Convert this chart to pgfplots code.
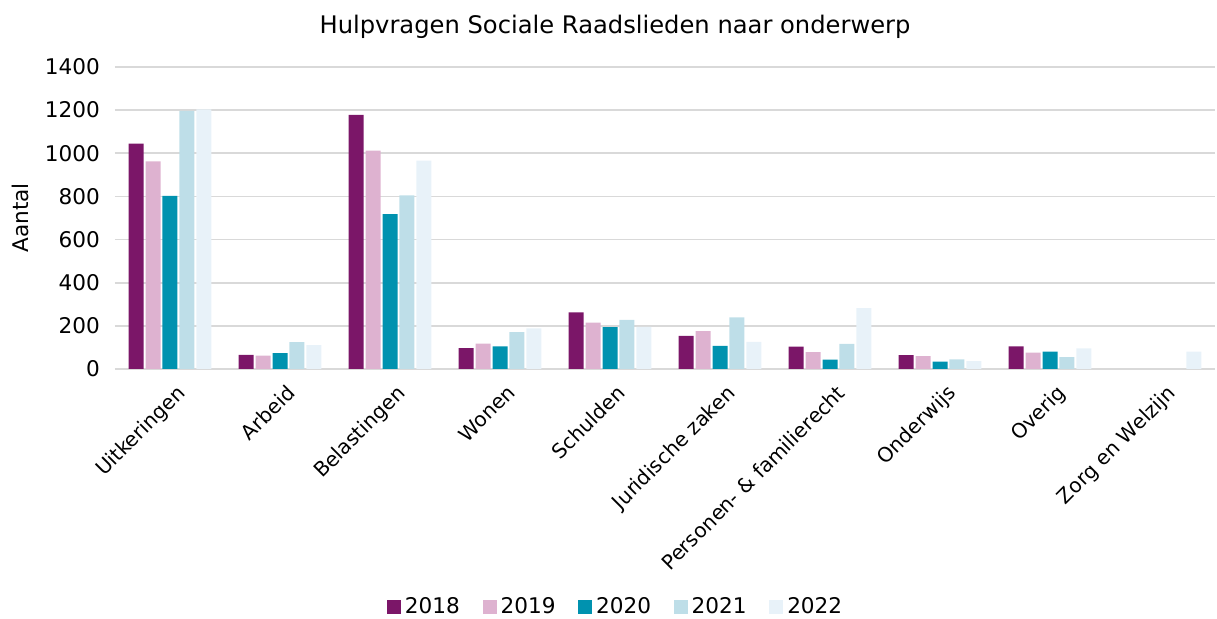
\documentclass[border=0pt]{standalone}
\usepackage{fontspec}
\setmainfont{DejaVu Sans}
\usepackage{pgfplots}
\pgfplotsset{compat=1.18}
\definecolor{c18}{RGB}{123,22,104}
\definecolor{c19}{RGB}{222,178,208}
\definecolor{c20}{RGB}{0,146,175}
\definecolor{c21}{RGB}{190,222,232}
\definecolor{c22}{RGB}{232,242,249}
\definecolor{gridgray}{RGB}{217,217,217}
\begin{document}
\begin{tikzpicture}
\path[use as bounding box] (0pt,0pt) rectangle (608.5pt,309.5pt);
\node[font=\fontsize{12.1}{14}\selectfont, anchor=center] at (307.5pt,296pt) {Hulpvragen Sociale Raadslieden naar onderwerp};
\begin{axis}[
  at={(57.5pt,125pt)}, anchor=south west,
  scale only axis, width=550pt, height=151pt,
  font=\fontsize{10.8}{13}\selectfont,
  /pgf/number format/assume math mode=true,
  ybar=0.95pt, bar width=7.5pt,
  xmin=-0.5, xmax=9.5, ymin=0, ymax=1400,
  ytick={0,200,...,1400},
  yticklabel style={/pgf/number format/1000 sep={}, xshift=-4pt},
  ymajorgrids, grid style={draw=gridgray, line width=0.8pt},
  axis line style={draw=none},
  major tick length=0pt,
  xtick={0,...,9},
  xticklabels={Uitkeringen,Arbeid,Belastingen,Wonen,Schulden,Juridische zaken,Personen- \& familierecht,Onderwijs,Overig,Zorg en Welzijn},
  xticklabel style={rotate=45, anchor=north east, inner sep=1pt, font=\fontsize{10.1}{12}\selectfont, xshift=-2pt, yshift=-6pt},
  ylabel={Aantal},
  ylabel style={at={(axis description cs:-0.0864,0.5)}, anchor=center},
  legend columns=5,
  legend style={at={(0.456,-0.788)}, anchor=center, draw=none, fill=none,
    /tikz/every even column/.append style={column sep=9.3pt},
    /tikz/every odd column/.append style={column sep=0pt}},
  legend image code/.code={\fill[#1] (0pt,-3.5pt) rectangle (7pt,3.5pt);},
]
\addplot[fill=c18, draw=none] coordinates {(0,1045) (1,65) (2,1178) (3,97) (4,262) (5,153) (6,104) (7,64) (8,105) (9,nan)};
\addplot[fill=c19, draw=none] coordinates {(0,962) (1,62) (2,1012) (3,117) (4,215) (5,175) (6,78) (7,60) (8,76) (9,nan)};
\addplot[fill=c20, draw=none] coordinates {(0,803) (1,74) (2,718) (3,105) (4,194) (5,107) (6,43) (7,34) (8,81) (9,nan)};
\addplot[fill=c21, draw=none] coordinates {(0,1196) (1,125) (2,805) (3,171) (4,228) (5,239) (6,116) (7,44) (8,55) (9,nan)};
\addplot[fill=c22, draw=none] coordinates {(0,1203) (1,111) (2,966) (3,188) (4,195) (5,126) (6,282) (7,37) (8,95) (9,81)};
\legend{2018,2019,2020,2021,2022}
\end{axis}
\end{tikzpicture}
\end{document}
